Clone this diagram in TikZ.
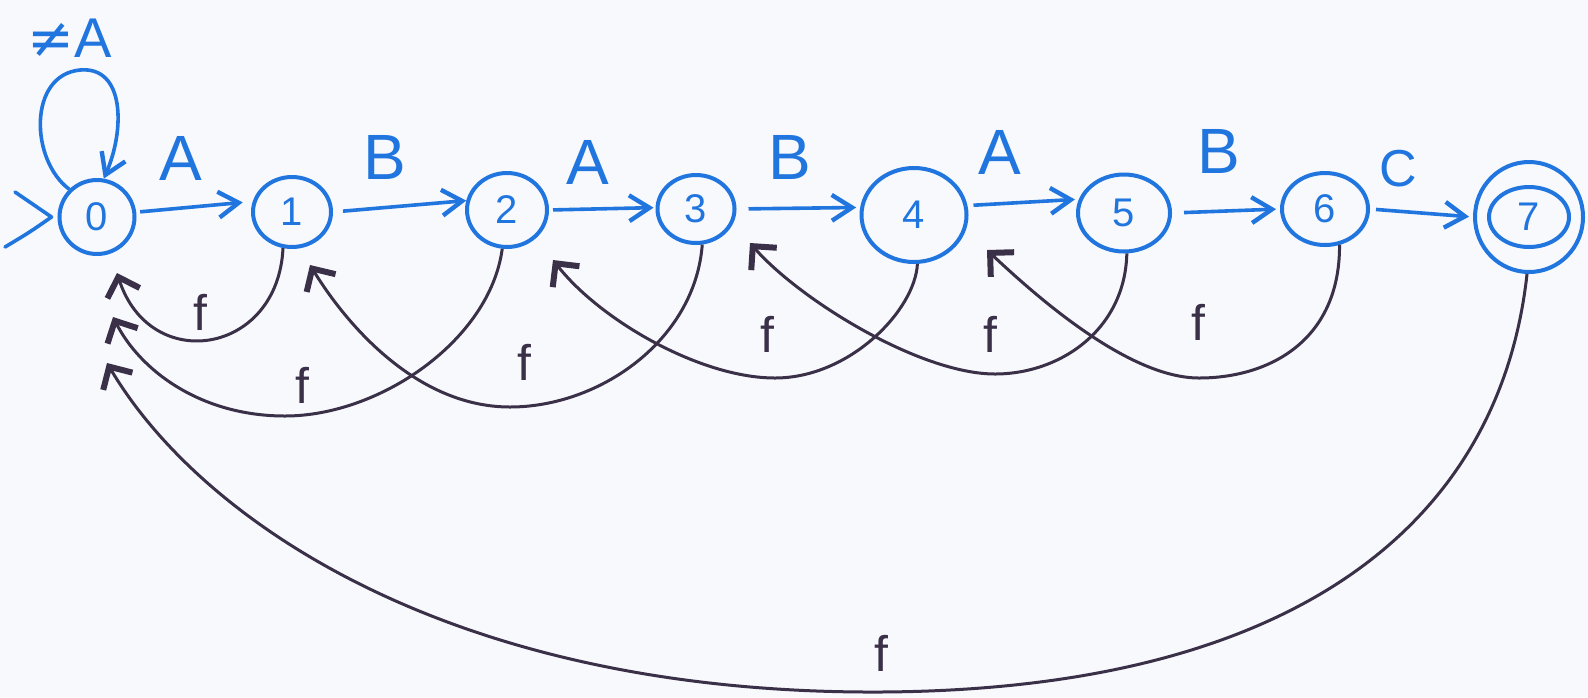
\documentclass[tikz,border=0pt]{standalone}
\usepackage{fontspec}
\setmainfont{Liberation Sans}
\newfontfamily\symfont{DejaVu Sans}
\usetikzlibrary{shapes.geometric,arrows.meta}
\definecolor{nblue}{RGB}{32,118,222}
\definecolor{fcol}{RGB}{58,48,72}
\definecolor{bgcol}{RGB}{248,249,253}
\begin{document}
\begin{tikzpicture}[x=0.5pt,y=-0.5pt,
  state/.style={ellipse, draw=nblue, line width=2pt, inner sep=0pt, text=nblue, font=\fontsize{20}{20}\selectfont},
  bedge/.style={draw=nblue, line width=1.8pt, -{Straight Barb[angle=65:12pt, line width=2.2pt]}},
  bline/.style={draw=nblue, line width=1.8pt, line cap=round, line join=round},
  fedge/.style={draw=fcol, line width=1.5pt, -{Straight Barb[angle=90:12pt, line width=3pt]}},
  lab/.style={text=nblue, inner sep=0pt, font=\fontsize{32}{32}\selectfont},
  flab/.style={text=fcol, inner sep=0pt, font=\fontsize{25}{25}\selectfont}]
\fill[bgcol] (0,0) rectangle (1588,697);
\useasboundingbox (0,0) rectangle (1588,697);

% states
\node[state, minimum width=37.5pt, minimum height=37pt] (n0) at (97,217) {0};
\node[state, minimum width=39pt, minimum height=35pt] (n1) at (292,212) {1};
\node[state, minimum width=40pt, minimum height=37pt] (n2) at (507,210) {2};
\node[state, minimum width=38.5pt, minimum height=34pt] (n3) at (696,209) {3};
\node[state, minimum width=52.5pt, minimum height=47pt] (n4) at (914,215) {4};
\node[state, minimum width=46pt, minimum height=38.5pt] (n5) at (1124,213) {5};
\node[state, minimum width=43pt, minimum height=36pt] (n6) at (1325,209) {6};
\node[state, minimum width=54pt, minimum height=55pt] (n7) at (1529,217) {7};
\draw[nblue, line width=2pt] (n7.center) ellipse [x radius=20pt, y radius=15pt];

% start arrow
\coordinate (ia) at (15,192);
\coordinate (ib) at (5,247);
\draw[bline] (ia) -- ([xshift=-3pt]n0.west) .. controls (30,232) .. (ib);

% self loop
\draw[bedge] (n0.135) .. controls (30,160) and (28,75) .. (80,70)
  .. controls (125,66) and (125,130) .. (n0.80);
\node[lab, font=\fontsize{28}{28}\selectfont] (lne) at (70,38) {{\symfont ≠}A};

% forward transitions
\draw[bedge, shorten <=2pt, shorten >=5pt] (n0.7) -- (n1.165);
\draw[bedge, shorten <=5pt] (n1.east) -- (n2.167);
\draw[bedge, shorten <=2pt, shorten >=1pt] (n2.east) -- (n3.178);
\draw[bedge, shorten <=6pt, shorten >=2pt] (n3.east) -- (n4.172);
\draw[bedge, shorten <=3pt, shorten >=2pt] (n4.10) -- (n5.163);
\draw[bedge, shorten <=6pt, shorten >=2pt] (n5.east) -- (n6.west);
\draw[bedge, shorten <=3pt, shorten >=2pt] (n6.east) -- (n7.west);

\node[lab] (l01) at (181,158) {A};
\node[lab] (l12) at (385,157) {B};
\node[lab] (l23) at (588,162) {A};
\node[lab] (l34) at (790,157) {B};
\node[lab] (l45) at (1000,152) {A};
\node[lab] (l56) at (1219,151) {B};
\node[lab, font=\fontsize{26}{26}\selectfont] (l67) at (1398,169) {C};

% failure links
\coordinate (t0a) at (117,273);
\coordinate (t0b) at (113,317);
\coordinate (t0c) at (107,363);
\coordinate (t1) at (310,265);
\coordinate (t2) at (553,260);
\coordinate (t3) at (750,243);
\coordinate (t4) at (987,250);

\draw[fedge] (n1.-104) .. controls (278,355) and (150,375) .. (t0a);
\draw[fedge] (n2.-97) .. controls (490,340) and (380,416) .. (285,416)
  .. controls (200,416) and (140,370) .. (t0b);
\draw[fedge] (n3.-80) .. controls (695,340) and (600,407) .. (510,407)
  .. controls (420,407) and (350,330) .. (t1);
\draw[fedge] (n4.-86) .. controls (915,310) and (850,378) .. (775,378)
  .. controls (700,378) and (600,320) .. (t2);
\draw[fedge] (n5.-86) .. controls (1125,330) and (1060,374) .. (995,374)
  .. controls (920,374) and (800,300) .. (t3);
\draw[fedge] (n6.-68) .. controls (1340,340) and (1270,378) .. (1199,378)
  .. controls (1130,378) and (1040,300) .. (t4);
\draw[fedge] (n7.-92) .. controls (1500,520) and (1300,690) .. (880,692)
  .. controls (450,694) and (200,520) .. (t0c);

\node[flab] (f10) at (200,312) {f};
\node[flab] (f20) at (302,385) {f};
\node[flab] (f31) at (524,362) {f};
\node[flab] (f42) at (767,334) {f};
\node[flab] (f53) at (990,334) {f};
\node[flab] (f64) at (1198,322) {f};
\node[flab] (f70) at (881,653) {f};
\end{tikzpicture}
\end{document}
